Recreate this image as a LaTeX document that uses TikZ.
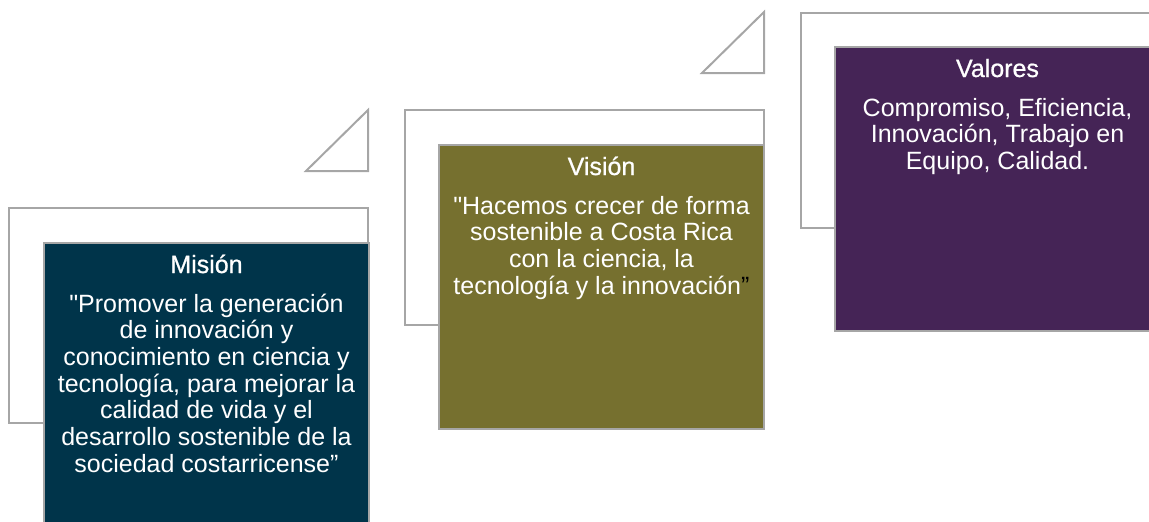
\documentclass[tikz,border=0pt]{standalone}
\usepackage{fontspec}
\setmainfont{Liberation Sans}[Ligatures=TeXOff]
\newfontfamily\titlefont[FakeBold=0.8,Ligatures=TeXOff]{Liberation Sans}
\usetikzlibrary{calc}
\definecolor{navybox}{RGB}{0,52,74}
\definecolor{olivebox}{RGB}{118,112,47}
\definecolor{purplebox}{RGB}{69,36,86}
\definecolor{framegray}{RGB}{166,166,166}
\tikzset{
  frame/.style={draw=framegray, line width=2pt, fill=white, anchor=north west,
    minimum width=359pt, minimum height=215pt, inner sep=0pt, outer sep=0pt},
  cbox/.style={draw=framegray, line width=1.5pt, anchor=north west,
    minimum width=325pt, minimum height=284pt, inner sep=0pt, outer sep=0pt},
  tri/.style={draw=framegray, line width=2pt, fill=white},
  titletext/.style={text=white, anchor=base, inner sep=0pt,
    font=\titlefont\fontsize{25pt}{26.7pt}\selectfont},
  bodytext/.style={text=white, anchor=north, inner sep=0pt, align=center,
    font=\fontsize{25pt}{26.7pt}\selectfont}
}
\begin{document}
\begin{tikzpicture}[x=1pt,y=-1pt]
\useasboundingbox (0,0) rectangle (1149,522);
\clip (0,0) rectangle (1149,522);
% triangles
\draw[tri] (306,171) -- (368,171) -- (368,110) -- cycle;
\draw[tri] (702,73) -- (764,73) -- (764,12) -- cycle;
% frames
\node[frame] (frame1) at (9,208) {};
\node[frame] (frame2) at (405,110) {};
\node[frame] (frame3) at (801,13) {};
% coloured boxes
\node[cbox, fill=navybox] (box1) at (44,243) {};
\node[cbox, fill=olivebox] (box2) at (439,145) {};
\node[cbox, fill=purplebox] (box3) at (835,47) {};
% texts
\node[titletext] (t1) at ($(box1.north)+(0,30)$) {Misión};
\node[bodytext] (b1) at ($(box1.north)+(0,50.3)$) {\strut"Promover la generación\\
de innovación y\\
conocimiento en ciencia y\\
tecnología, para mejorar la\\
calidad de vida y el\\
desarrollo sostenible de la\\
sociedad costarricense”};
\node[titletext] (t2) at ($(box2.north)+(0,30)$) {Visión};
\node[bodytext] (b2) at ($(box2.north)+(0,50.3)$) {\strut"Hacemos crecer de forma\\
sostenible a Costa Rica\\
con la ciencia, la\\
tecnología y la innovación\textcolor{black}{”}};
\node[titletext] (t3) at ($(box3.north)+(0,30)$) {Valores};
\node[bodytext] (b3) at ($(box3.north)+(0,50.3)$) {\strut Compromiso, Eficiencia,\\
Innovación, Trabajo en\\
Equipo, Calidad.};
\end{tikzpicture}
\end{document}
